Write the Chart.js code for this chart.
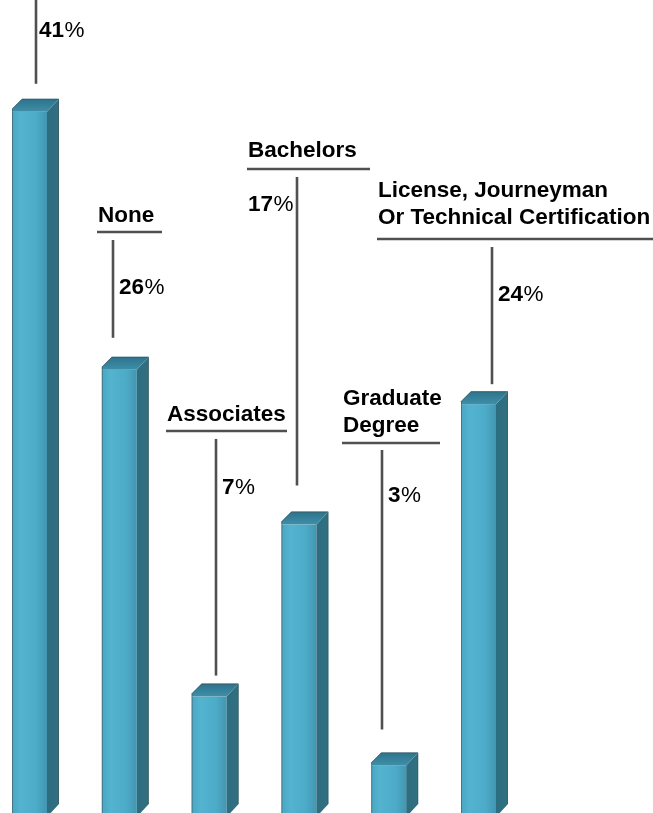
<!DOCTYPE html>
<html>
<head>
<meta charset="utf-8">
<script src="https://cdn.jsdelivr.net/npm/chart.js@4.4.1/dist/chart.umd.min.js"></script>
<style>
  html, body { margin: 0; padding: 0; background: #fff; overflow: hidden; }
  #wrap { width: 653px; height: 813px; position: relative; }
</style>
</head>
<body>
<div id="wrap"><canvas id="eduChart"></canvas></div>
<script>
// datos
const categories = ['', 'None', 'Associates', 'Bachelors', 'Graduate Degree', 'License, Journeyman Or Technical Certification'];
const labelLines = [[], ['None'], ['Associates'], ['Bachelors'], ['Graduate', 'Degree'], ['License, Journeyman', 'Or Technical Certification']];
const shares = [41, 26, 7, 17, 3, 24];

// caja 3D: desplazamiento de la cara superior / lateral
const DEPTH_X = 12;
const DEPTH_Y = 13;

// posiciones de cada etiqueta (texto, subrayado y línea guía)
const labelLayout = [
  { lineX: 36,  lineTop: 0,   gap: 15, textX: 38,  baseY: 0,   ruleY: null, ruleX: [0, 0],     pctX: 39,  pctY: 37 },
  { lineX: 113, lineTop: 240, gap: 19, textX: 98,  baseY: 222, ruleY: 232, ruleX: [97, 162],  pctX: 119, pctY: 294 },
  { lineX: 216, lineTop: 439, gap: 8,  textX: 167, baseY: 421, ruleY: 431, ruleX: [166, 287], pctX: 222, pctY: 494 },
  { lineX: 297, lineTop: 177, gap: 26, textX: 248, baseY: 157, ruleY: 169, ruleX: [247, 370], pctX: 248, pctY: 211 },
  { lineX: 382, lineTop: 450, gap: 23, textX: 343, baseY: 405, ruleY: 443, ruleX: [342, 440], pctX: 388, pctY: 502 },
  { lineX: 492, lineTop: 247, gap: 7,  textX: 378, baseY: 197, ruleY: 239, ruleX: [377, 653], pctX: 498, pctY: 301 }
];

const FONT_FAMILY = '"Liberation Sans", Arial, sans-serif';
const FONT_PX = 22.5;

function frontGradient(ctx, left, right) {
  const g = ctx.createLinearGradient(left, 0, right, 0);
  g.addColorStop(0, '#48a6c2');
  g.addColorStop(0.25, '#54b3cf');
  g.addColorStop(0.7, '#4cabc8');
  g.addColorStop(1, '#4396b1');
  return g;
}

// Dibuja cara frontal, superior y lateral de cada barra
const boxPlugin = {
  id: 'box3d',
  afterDatasetsDraw(chart) {
    const ctx = chart.ctx;
    const meta = chart.getDatasetMeta(0);
    ctx.save();
    meta.data.forEach(bar => {
      const half = bar.width / 2;
      const left = bar.x - half;
      const right = bar.x + half;
      const top = bar.y;
      const base = bar.base;

      // cara frontal
      ctx.fillStyle = frontGradient(ctx, left, right);
      ctx.fillRect(left, top, right - left, base - top);

      // cara lateral
      const side = ctx.createLinearGradient(right, 0, right + DEPTH_X, 0);
      side.addColorStop(0, '#2c6d81');
      side.addColorStop(1, '#33707f');
      ctx.fillStyle = side;
      ctx.beginPath();
      ctx.moveTo(right, top);
      ctx.lineTo(right + DEPTH_X, top - DEPTH_Y);
      ctx.lineTo(right + DEPTH_X, base - DEPTH_Y);
      ctx.lineTo(right, base);
      ctx.closePath();
      ctx.fill();

      // cara superior
      const topG = ctx.createLinearGradient(0, top - DEPTH_Y, 0, top);
      topG.addColorStop(0, '#2d728b');
      topG.addColorStop(1, '#3f8fa9');
      ctx.fillStyle = topG;
      ctx.beginPath();
      ctx.moveTo(left, top);
      ctx.lineTo(left, top - 3);
      ctx.lineTo(left + DEPTH_X - 2, top - DEPTH_Y);
      ctx.lineTo(right + DEPTH_X, top - DEPTH_Y);
      ctx.lineTo(right, top);
      ctx.closePath();
      ctx.fill();

      // aristas
      ctx.strokeStyle = 'rgba(70,80,85,0.55)';
      ctx.lineWidth = 1;
      ctx.beginPath();
      ctx.moveTo(left + 0.5, base);
      ctx.lineTo(left + 0.5, top - 3);
      ctx.lineTo(left + DEPTH_X - 2, top - DEPTH_Y + 0.5);
      ctx.lineTo(right + DEPTH_X - 0.5, top - DEPTH_Y + 0.5);
      ctx.lineTo(right + DEPTH_X - 0.5, base - DEPTH_Y);
      ctx.stroke();
    });
    ctx.restore();
  }
};

// Etiquetas con subrayado y línea guía hasta la barra
const labelPlugin = {
  id: 'leaderLabels',
  afterDraw(chart) {
    const ctx = chart.ctx;
    const meta = chart.getDatasetMeta(0);
    ctx.save();
    ctx.strokeStyle = '#505050';
    ctx.lineWidth = 2.6;
    ctx.fillStyle = '#000';
    ctx.textBaseline = 'alphabetic';
    ctx.textAlign = 'left';

    labelLayout.forEach((lay, i) => {
      const bar = meta.data[i];
      const lineBottom = bar.y - DEPTH_Y - lay.gap;

      // línea guía vertical
      ctx.beginPath();
      ctx.moveTo(lay.lineX, lay.lineTop);
      ctx.lineTo(lay.lineX, lineBottom);
      ctx.stroke();

      // subrayado
      if (lay.ruleY !== null) {
        ctx.beginPath();
        ctx.moveTo(lay.ruleX[0], lay.ruleY);
        ctx.lineTo(lay.ruleX[1], lay.ruleY);
        ctx.stroke();
      }

      // nombre de la categoría
      ctx.font = 'bold ' + FONT_PX + 'px ' + FONT_FAMILY;
      labelLines[i].forEach((txt, k) => {
        ctx.fillText(txt, lay.textX, lay.baseY + k * 27);
      });

      // porcentaje: cifras en negrita, signo más ligero
      const num = String(shares[i]);
      ctx.font = 'bold ' + FONT_PX + 'px ' + FONT_FAMILY;
      ctx.fillText(num, lay.pctX, lay.pctY);
      const w = ctx.measureText(num).width;
      ctx.font = FONT_PX + 'px ' + FONT_FAMILY;
      ctx.fillText('%', lay.pctX + w + 0.5, lay.pctY);
    });
    ctx.restore();
  }
};

const ctx = document.getElementById('eduChart').getContext('2d');
new Chart(ctx, {
  type: 'bar',
  data: {
    labels: categories,
    datasets: [{
      data: shares,
      backgroundColor: 'rgba(0,0,0,0)',
      borderWidth: 0,
      barThickness: 35,
      clip: false
    }]
  },
  options: {
    responsive: true,
    maintainAspectRatio: false,
    animation: false,
    events: [],
    layout: { padding: { left: 29.5, right: 174.5, top: 0, bottom: 0 } },
    plugins: { legend: { display: false }, tooltip: { enabled: false } },
    scales: {
      x: { type: 'category', offset: false, display: false, grid: { display: false } },
      y: { display: false, min: 0.2326, max: 47.5, grid: { display: false } }
    }
  },
  plugins: [boxPlugin, labelPlugin]
});
</script>
</body>
</html>
